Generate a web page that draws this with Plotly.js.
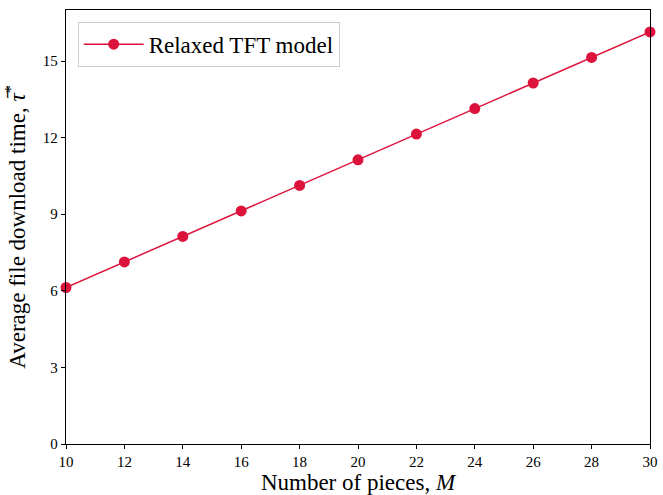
<!DOCTYPE html>
<html>
<head>
<meta charset="utf-8">
<script src="https://cdn.plot.ly/plotly-3.0.1.min.js"></script>
<style>html,body{margin:0;padding:0;background:#fff;}#chart{width:663px;height:495px;}</style>
</head>
<body>
<div id="chart"></div>
<script>
const pieces = [10, 12, 14, 16, 18, 20, 22, 24, 26, 28, 30];
const downloadTime = [6.13, 7.13, 8.13, 9.13, 10.13, 11.13, 12.14, 13.14, 14.14, 15.14, 16.14];
const seriesName = "Relaxed TFT model";
const xTicks = [10, 12, 14, 16, 18, 20, 22, 24, 26, 28, 30];
const yTicks = [0, 3, 6, 9, 12, 15];

const font = "Liberation Serif, DejaVu Serif, serif";
Plotly.newPlot("chart", [{
  x: pieces, y: downloadTime, name: seriesName, type: "scatter", mode: "lines+markers",
  line: {color: "#DC143C", width: 1.5},
  marker: {color: "#DC143C", size: 11},
  cliponaxis: false
}], {
  width: 663, height: 495,
  margin: {l: 66, r: 13, t: 10, b: 51},
  paper_bgcolor: "#fff", plot_bgcolor: "#fff",
  font: {family: font, color: "#000"},
  showlegend: true,
  legend: {x: 0.02, y: 0.973, xanchor: "left", yanchor: "top", bordercolor: "#cccccc", borderwidth: 1,
    bgcolor: "rgba(255,255,255,0.8)", font: {family: font, size: 23}, itemwidth: 60},
  xaxis: {range: [10, 30], tickvals: xTicks, ticktext: xTicks.map(String), ticks: "outside", ticklen: 4,
    tickcolor: "#000", showgrid: false, zeroline: false, showline: true, linecolor: "#000", linewidth: 1.2,
    mirror: true, tickfont: {family: font, size: 15},
    title: {text: "Number of pieces, <i>M</i>", font: {family: font, size: 23}, standoff: 6}},
  yaxis: {range: [0, 17], tickvals: yTicks, ticktext: yTicks.map(String), ticks: "outside", ticklen: 4,
    tickcolor: "#000", showgrid: false, zeroline: false, showline: true, linecolor: "#000", linewidth: 1.2,
    mirror: true, tickfont: {family: font, size: 15},
    title: {text: "Average file download time, <i>τ̅</i><sup>*</sup>", font: {family: font, size: 23}, standoff: 10}}
}, {displayModeBar: false, staticPlot: true});
</script>
</body>
</html>
